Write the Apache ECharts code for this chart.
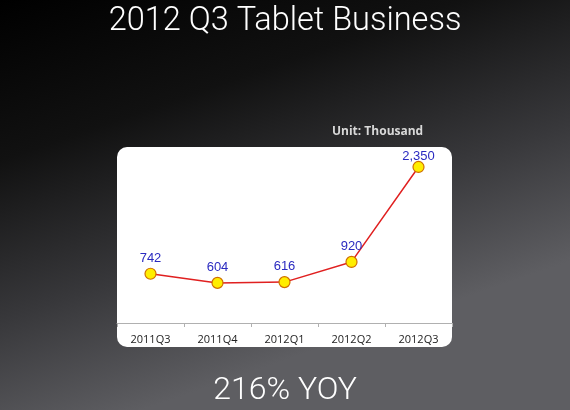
<!DOCTYPE html>
<html>
<head>
<meta charset="utf-8">
<script src="https://cdn.jsdelivr.net/npm/echarts@6/dist/echarts.min.js"></script>
<style>
  html, body { margin: 0; padding: 0; background: #000; }
  #main { width: 570px; height: 410px; }
</style>
</head>
<body>
<div id="main"></div>
<script>
// data
const categories = ['2011Q3', '2011Q4', '2012Q1', '2012Q2', '2012Q3'];
const shipments = [742, 604, 616, 920, 2350];

const chart = echarts.init(document.getElementById('main'), null, {renderer: 'canvas'});

// last label sits tighter to its point
const seriesData = shipments.map((v, i) =>
    i === shipments.length - 1 ? {value: v, label: {offset: [0, 5]}} : v
);

chart.setOption({
    animation: false,
    backgroundColor: new echarts.graphic.LinearGradient(0, 0, 0.25, 1, [
        {offset: 0, color: '#000000'},
        {offset: 0.35, color: '#111111'},
        {offset: 0.7, color: '#38383b'},
        {offset: 1, color: '#5e5e62'},
    ]),
    graphic: [
        {
            type: 'rect',
            z: 0,
            shape: {x: 117, y: 147, width: 335, height: 200, r: 10},
            style: {fill: '#ffffff'},
        },
        {
            type: 'text',
            left: 'center',
            top: 5,
            style: {
                text: '2012 Q3 Tablet Business',
                fill: '#ffffff',
                font: '300 32.5px Roboto',
            },
        },
        {
            type: 'text',
            left: 'center',
            top: 375,
            style: {
                text: '216% YOY',
                fill: '#ffffff',
                font: '300 32px Roboto',
            },
        },
        {
            type: 'text',
            left: 332,
            top: 126,
            style: {
                text: 'Unit: Thousand',
                fill: '#d8d8d8',
                font: 'bold 12px "Open Sans"',
            },
        },
    ],
    grid: {left: 117, width: 335, top: 157, bottom: 87},
    xAxis: {
        type: 'category',
        data: categories,
        boundaryGap: true,
        axisLine: {lineStyle: {color: '#b0b0b0', width: 1}},
        axisTick: {show: true, inside: false, length: 4, lineStyle: {color: '#b0b0b0'}},
        axisLabel: {color: '#222', fontSize: 11, fontFamily: '"Open Sans"', margin: 11},
    },
    yAxis: {
        type: 'value',
        min: 0,
        max: 2500,
        show: false,
        splitLine: {show: false},
    },
    series: [
        {
            type: 'line',
            data: seriesData,
            symbol: 'circle',
            symbolSize: 11,
            z: 3,
            lineStyle: {color: '#e02020', width: 1.5},
            itemStyle: {color: '#ffee00', borderColor: '#d07000', borderWidth: 1.2},
            label: {
                show: true,
                position: 'top',
                distance: 3,
                color: '#2a2ac0',
                fontSize: 13,
                fontFamily: '"Liberation Sans"',
                formatter: p => p.value.toLocaleString('en-US'),
            },
        },
    ],
});
</script>
</body>
</html>
